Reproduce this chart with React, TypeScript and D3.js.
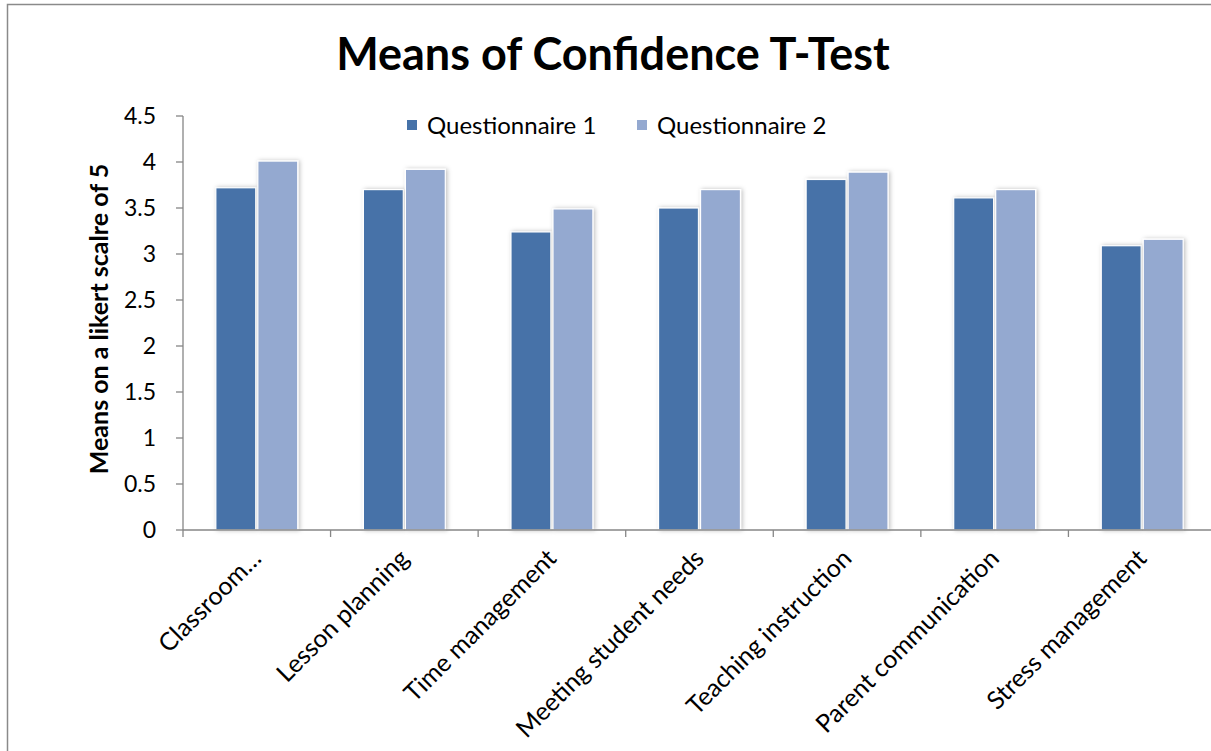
import React from 'react';
import * as d3 from 'd3';

const categories = [
  'Classroom…',
  'Lesson planning',
  'Time management',
  'Meeting student needs',
  'Teaching instruction',
  'Parent communication',
  'Stress management',
];
const seriesNames = ['Questionnaire 1', 'Questionnaire 2'];
const q1Values = [3.72, 3.70, 3.24, 3.50, 3.81, 3.61, 3.09];
const q2Values = [4.01, 3.92, 3.49, 3.70, 3.89, 3.70, 3.16];
const yTicks = [0, 0.5, 1, 1.5, 2, 2.5, 3, 3.5, 4, 4.5];

const colors = ['#4672a8', '#94a9d0'];
const font = 'Lato, "Open Sans", sans-serif';

const App: React.FC = () => {
  const width = 1211;
  const height = 751;
  const left = 183;
  const right = 1216;
  const top = 116;
  const bottom = 530;

  const x0 = d3.scaleBand<string>()
    .domain(categories)
    .range([left, right])
    .paddingInner(0.445)
    .paddingOuter(0.2225);
  const x1 = d3.scaleBand<string>()
    .domain(seriesNames)
    .range([0, x0.bandwidth()])
    .paddingInner(0.05);
  const y = d3.scaleLinear().domain([0, 4.5]).range([bottom, top]);
  const step = (right - left) / categories.length;
  const values = [q1Values, q2Values];

  return (
    <svg
      width={width}
      height={height}
      style={{ position: 'absolute', left: 0, top: 0, background: 'white' }}
      fontFamily={font}
    >
      <defs>
        <filter id="shadow" x="-20%" y="-5%" width="140%" height="110%">
          <feDropShadow dx="1.5" dy="0" stdDeviation="2" floodColor="#000" floodOpacity="0.25" />
        </filter>
      </defs>

      {/* frame */}
      <rect x={7.5} y={4.5} width={1300} height={800} fill="white" stroke="#8a8a8a" strokeWidth={1.5} />

      {/* title */}
      <text x={613} y={70} textAnchor="middle" fontSize={45} fontWeight="bold" fill="#000">
        Means of Confidence T-Test
      </text>

      {/* bars */}
      {categories.map((c, i) => (
        <g key={c} transform={`translate(${x0(c)},0)`}>
          {seriesNames.map((s, j) => (
            <rect
              key={s}
              x={x1(s)}
              y={y(values[j][i])}
              width={x1.bandwidth()}
              height={bottom - y(values[j][i])}
              fill={colors[j]}
              stroke="white"
              strokeWidth={1.2}
              filter="url(#shadow)"
            />
          ))}
        </g>
      ))}

      {/* y axis */}
      <line x1={left} x2={left} y1={top} y2={bottom} stroke="#868686" strokeWidth={1.3} />
      {yTicks.map(t => (
        <g key={t}>
          <line x1={left - 7} x2={left} y1={y(t)} y2={y(t)} stroke="#868686" strokeWidth={1.3} />
          <text x={left - 27} y={y(t)} dy="0.36em" textAnchor="end" fontSize={23} fill="#000">
            {t}
          </text>
        </g>
      ))}

      {/* x axis */}
      <line x1={left} x2={right} y1={bottom} y2={bottom} stroke="#868686" strokeWidth={1.3} />
      {d3.range(categories.length + 1).map(i => (
        <line
          key={i}
          x1={left + i * step}
          x2={left + i * step}
          y1={bottom}
          y2={bottom + 7}
          stroke="#868686"
          strokeWidth={1.3}
        />
      ))}
      {categories.map(c => (
        <text
          key={c}
          transform={`translate(${(x0(c) ?? 0) + x0.bandwidth() / 2 + 6},${bottom + 30}) rotate(-45)`}
          textAnchor="end"
          fontSize={25}
          fill="#000"
        >
          {c}
        </text>
      ))}

      {/* y label */}
      <text
        transform={`translate(108,319) rotate(-90)`}
        textAnchor="middle"
        fontSize={25}
        fontWeight="bold"
        fill="#000"
      >
        Means on a likert scalre of 5
      </text>

      {/* legend */}
      {seriesNames.map((s, j) => (
        <g key={s} transform={`translate(${407 + j * 230},120)`}>
          <rect x={0} y={0} width={10} height={10} fill={colors[j]} />
          <text x={20} y={5} dy="0.36em" fontSize={24} fill="#000">
            {s}
          </text>
        </g>
      ))}
    </svg>
  );
};

export default App;
